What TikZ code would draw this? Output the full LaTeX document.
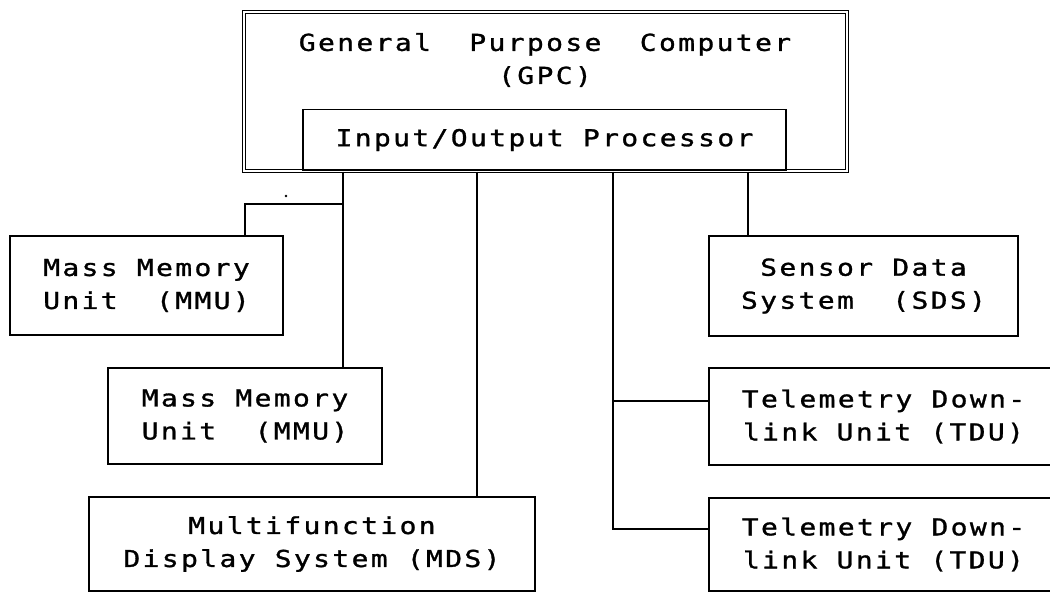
\documentclass[tikz,border=0pt]{standalone}
\usepackage{fontspec}
\newfontfamily\plotfont[FakeStretch=1.2, FakeBold=1.2, LetterSpace=10.2]{DejaVu Sans Mono}
\begin{document}
\begin{tikzpicture}[x=1pt,y=-1pt,
  txt/.style={inner sep=0pt, align=center, font=\plotfont\fontsize{23.3}{33}\selectfont},
  box/.style={txt, draw, line width=1.7pt},
  conn/.style={line width=1.6pt}]
\useasboundingbox (0,0) rectangle (1050,593);
\fill[white] (0,0) rectangle (1050,593);
% GPC frame
\node[draw, double, double distance=1.6pt, line width=1.3pt, inner sep=0pt,
      minimum width=603pt, minimum height=159pt] (gpc) at (545.5,91.5) {};
\node[txt] (gpct) at (545,60) {General~~Purpose~~Computer\\(GPC)};
\node[box, minimum width=483pt, minimum height=61pt] (iop) at (544.5,140) {Input/Output Processor};
% peripheral boxes
\node[box, minimum width=273pt, minimum height=99pt] (mmu1) at (146.5,285.5) {Mass Memory\\Unit~~(MMU)};
\node[box, minimum width=274pt, minimum height=96pt] (mmu2) at (245,416) {Mass Memory\\Unit~~(MMU)};
\node[box, minimum width=446pt, minimum height=94pt] (mds) at (312,544) {Multifunction\\Display System (MDS)};
\node[box, minimum width=309pt, minimum height=100pt] (sds) at (863.5,286) {Sensor Data\\System~~(SDS)};
\node[box, minimum width=349pt, minimum height=97pt] (tdu1) at (883.5,416.5) {Telemetry Down-\\link Unit (TDU)};
\node[box, minimum width=349pt, minimum height=93pt] (tdu2) at (883.5,544.5) {Telemetry Down-\\link Unit (TDU)};
% connector columns and junctions
\coordinate (c0) at (245,0);
\coordinate (c1) at (343,0);
\coordinate (c2) at (477,0);
\coordinate (c3) at (613,0);
\coordinate (c4) at (748,0);
\coordinate (j1) at (343,204);
\coordinate (j2) at (613,401);
\coordinate (j3) at (613,529);
\draw[conn] (c1 |- gpc.south) -- (c1 |- mmu2.north);
\draw[conn] (j1) -| (c0 |- mmu1.north);
\draw[conn] (c2 |- gpc.south) -- (c2 |- mds.north);
\draw[conn] (c3 |- gpc.south) -- (j3) -- (j3 -| tdu2.west);
\draw[conn] (j2) -- (j2 -| tdu1.west);
\draw[conn] (c4 |- gpc.south) -- (c4 |- sds.north);
\fill (286,196) circle (1.3pt);
\end{tikzpicture}
\end{document}
